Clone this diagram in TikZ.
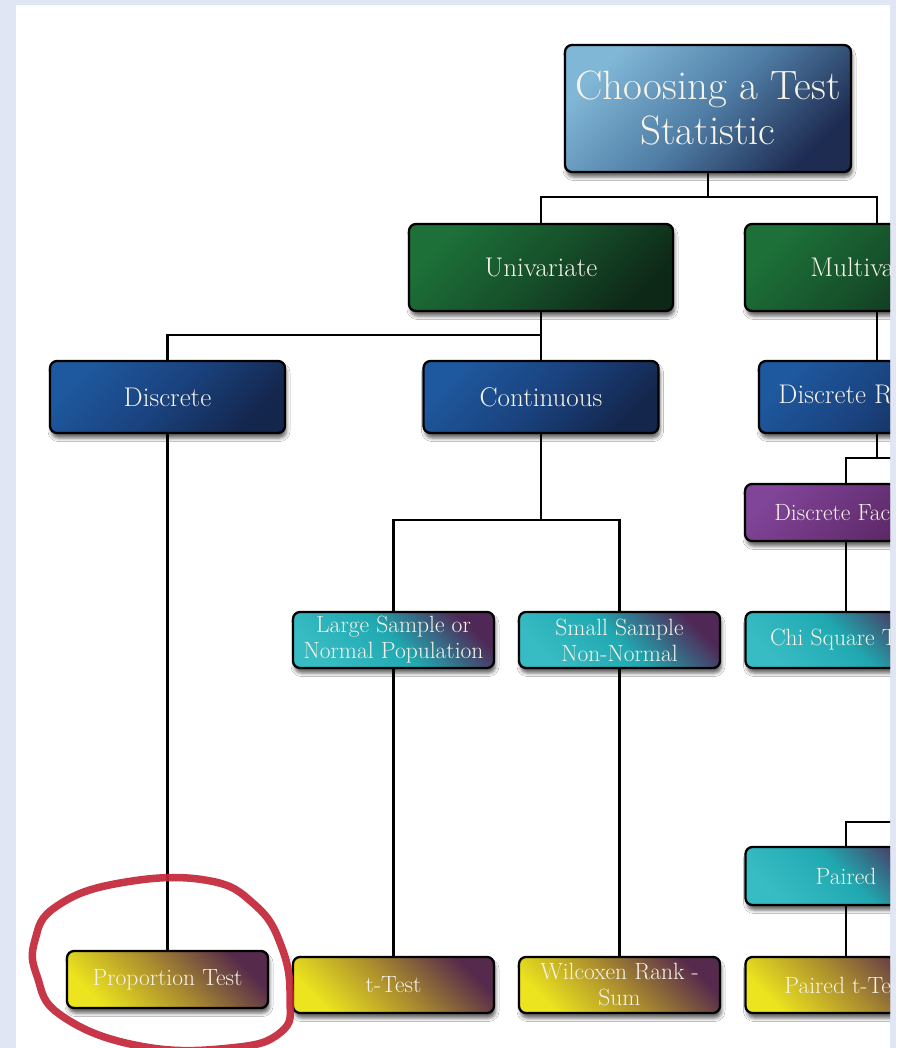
\documentclass[tikz,border=0pt]{standalone}
\usetikzlibrary{shadows.blur}
% palette
\definecolor{frameblue}{RGB}{225,230,244}
\definecolor{labelwhite}{RGB}{247,243,232}
\definecolor{titleA}{RGB}{128,182,214}
\definecolor{titleM}{RGB}{80,126,166}
\definecolor{titleB}{RGB}{30,44,82}
\definecolor{greenA}{RGB}{28,112,56}
\definecolor{greenM}{RGB}{22,80,42}
\definecolor{greenB}{RGB}{14,40,24}
\definecolor{blueA}{RGB}{30,88,158}
\definecolor{blueM}{RGB}{26,66,126}
\definecolor{blueB}{RGB}{20,38,76}
\definecolor{purpA}{RGB}{128,68,152}
\definecolor{purpB}{RGB}{88,36,96}
\definecolor{tealA}{RGB}{56,188,196}
\definecolor{tealM}{RGB}{32,168,176}
\definecolor{tealB}{RGB}{80,40,86}
\definecolor{yellA}{RGB}{236,228,30}
\definecolor{yellM}{RGB}{170,140,46}
\definecolor{yellB}{RGB}{86,42,76}
\definecolor{markred}{RGB}{196,38,57}
\definecolor{shadowtone}{RGB}{40,60,60}
\tikzset{
  box/.style={draw=black, line width=2.3pt, rounded corners=7pt,
    text=labelwhite, inner sep=0pt, align=center,
    blur shadow={shadow xshift=1.5pt, shadow yshift=-5pt,
      shadow blur radius=3.5pt, shadow opacity=60}},
  titlebox/.style={box, minimum width=286pt, minimum height=127pt,
    top color=titleA, bottom color=titleB, middle color=titleM, shading angle=45,
    font=\fontsize{41}{45}\selectfont},
  greenbox/.style={box, minimum width=264pt, minimum height=87pt,
    top color=greenA, bottom color=greenB, middle color=greenM, shading angle=45,
    font=\fontsize{27}{30}\selectfont},
  bluebox/.style={box, minimum width=235pt, minimum height=72pt,
    top color=blueA, bottom color=blueB, middle color=blueM, shading angle=45,
    font=\fontsize{27}{30}\selectfont},
  purplebox/.style={box, minimum width=202pt, minimum height=57pt,
    top color=purpA, bottom color=purpB, shading angle=45,
    font=\fontsize{23.5}{26}\selectfont},
  tealbox/.style={box, minimum width=201pt, minimum height=56pt,
    top color=tealB, bottom color=tealA, middle color=tealM, shading angle=-45,
    font=\fontsize{23.5}{26}\selectfont},
  yellowbox/.style={box, minimum width=201pt, minimum height=56pt,
    top color=yellB, bottom color=yellA, middle color=yellM, shading angle=-45,
    font=\fontsize{23.5}{26}\selectfont},
  wire/.style={draw=black, line width=2.6pt},
}
\begin{document}
\begin{tikzpicture}[x=1pt, y=-1pt]
\useasboundingbox (0,0) rectangle (896,1048);
\fill[frameblue] (0,0) rectangle (896,1048);
\fill[white] (16,5) rectangle (890,1048);
\begin{scope}
\clip (16,5) rectangle (890,1048);

% ---- boxes ----
\node[titlebox] (title) at (708,108.5) {Choosing a Test\\Statistic};

\node[greenbox] (uni)   at (541,267.5) {Univariate};
\node[greenbox] (multi) at (877,267.5) {Multivariate};

\node[bluebox] (disc)  at (167.5,397) {Discrete};
\node[bluebox] (cont)  at (541,397)   {Continuous};
\node[bluebox] (discR) at (876.5,397) {Discrete Response};

\node[purplebox] (discF) at (846,512.5) {Discrete Factor};

\node[tealbox] (large) at (393.5,640) {Large Sample or\\Normal Population};
\node[tealbox] (small) at (619.5,640) {Small Sample\\Non-Normal};
\node[tealbox] (chi)   at (846,640)   {Chi Square Test};
\node[tealbox, minimum height=58pt] (paired) at (846,876) {Paired};

\node[yellowbox, minimum height=57pt] (prop) at (167.5,979.5) {Proportion Test};
\node[yellowbox] (ttest) at (393.5,985) {t-Test};
\node[yellowbox] (wilc)  at (619.5,985) {Wilcoxen Rank -\\Sum};
\node[yellowbox] (pairt) at (846,985)   {Paired t-Test};

% ---- junction points ----
\coordinate (j1) at (708,197);
\coordinate (j2) at (541,335);
\coordinate (j3) at (877,458);
\coordinate (j3r) at (960,458);
\coordinate (j4) at (541,520);
\coordinate (j5) at (846,822);
\coordinate (j5r) at (960,822);

% ---- connectors ----
\draw[wire] (title.south) -- (j1);
\draw[wire] (uni.north) |- (j1) -| (multi.north);
\draw[wire] (uni.south) -- (j2);
\draw[wire] (disc.north) |- (j2) -| (cont.north);
\draw[wire] (multi.south) -- (multi.south |- discR.north);
\draw[wire] (discR.south -| j3) -- (j3);
\draw[wire] (discF.north) |- (j3) -- (j3r);
\draw[wire] (discF.south) -- (chi.north);
\draw[wire] (cont.south) -- (j4);
\draw[wire] (large.north) |- (j4) -| (small.north);
\draw[wire] (disc.south) -- (prop.north);
\draw[wire] (large.south) -- (ttest.north);
\draw[wire] (small.south) -- (wilc.north);
\draw[wire] (j5r) -- (j5) -- (paired.north);
\draw[wire] (paired.south) -- (pairt.north);

% ---- hand-drawn ring ----
\draw[markred, line width=7.5pt, opacity=0.92, line join=round]
  plot[smooth cycle, tension=0.75] coordinates {
    (35,940) (57,906) (120,883) (205,880) (255,905) (282,948)
    (290,998) (281,1032) (230,1048) (140,1046) (62,1016) (37,976)};
\end{scope}
\end{tikzpicture}
\end{document}
